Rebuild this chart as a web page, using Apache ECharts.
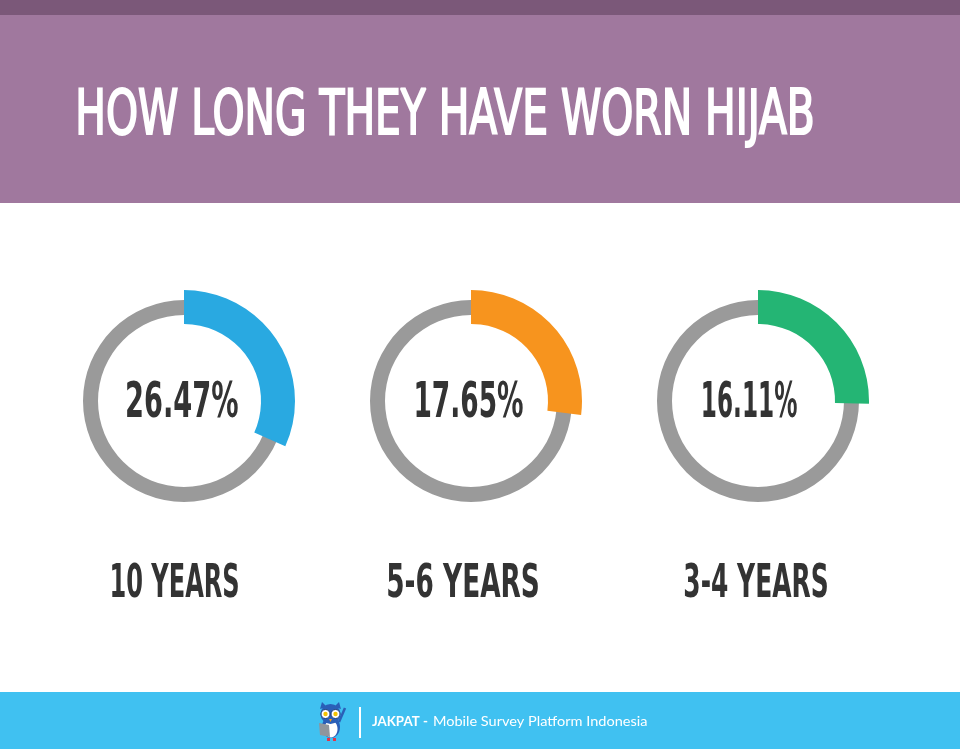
<!DOCTYPE html>
<html>
<head>
<meta charset="utf-8">
<script src="https://cdn.jsdelivr.net/npm/echarts@6/dist/echarts.min.js"></script>
<style>
  html, body { margin: 0; padding: 0; background: #ffffff; }
  #chart { width: 960px; height: 751px; }
</style>
</head>
<body>
<div id="chart"></div>
<script>
// ---- data ----
const titleText = 'HOW LONG THEY HAVE WORN HIJAB';
const categories = ['10 YEARS', '5-6 YEARS', '3-4 YEARS'];
const percentValues = [26.47, 17.65, 16.11];
// share of the ring filled by the coloured arc, as drawn in the picture (% of circle)
const arcShare = [31.7, 27.0, 25.4];
const footerBrand = 'JAKPAT -';
const footerText = 'Mobile Survey Platform Indonesia';

// ---- styles / layout ----
const palette = ['#29a9e1', '#f7941e', '#24b574'];
const ringGray = '#9a9a9a';
const textDark = '#333333';
const centers = [[184, 401], [471, 401], [758, 401]];
const numBoxes = [[127, 238], [416, 523], [703, 797]];
const labelBoxes = [[112, 238], [388, 538], [685, 827]];
const wideFam = "'DejaVu Sans', sans-serif";
const condFam = "'DejaVu Sans Condensed', 'DejaVu Sans', sans-serif";

const measureCtx = document.createElement('canvas').getContext('2d');
function fitText(text, weight, family, size, left, right, capTop, baseline, fill, strokeW) {
  const font = weight + ' ' + size + 'px ' + family;
  measureCtx.font = font;
  measureCtx.textBaseline = 'middle';
  measureCtx.textAlign = 'left';
  const m = measureCtx.measureText(text);
  const h = measureCtx.measureText('H');
  const sw = strokeW || 0;
  const inkW = m.actualBoundingBoxLeft + m.actualBoundingBoxRight + sw;
  const capH = h.actualBoundingBoxAscent + h.actualBoundingBoxDescent + sw;
  const sx = (right - left) / inkW;
  const sy = (baseline - capTop) / capH;
  const style = {
    text: text,
    font: font,
    fontSize: size,
    fontWeight: weight,
    fontFamily: family,
    fill: fill,
    align: 'left',
    verticalAlign: 'middle',
    textAlign: 'left',
    textVerticalAlign: 'middle'
  };
  if (sw) { style.stroke = fill; style.lineWidth = sw; style.lineJoin = 'round'; }
  return {
    type: 'text',
    x: left + (m.actualBoundingBoxLeft + sw / 2) * sx,
    y: baseline - (h.actualBoundingBoxDescent + sw / 2) * sy,
    scaleX: sx,
    scaleY: sy,
    silent: true,
    z: 10,
    style: style
  };
}

const series = [];
categories.forEach(function (cat, i) {
  series.push({
    type: 'pie',
    center: centers[i],
    radius: [86, 101],
    silent: true,
    label: { show: false },
    labelLine: { show: false },
    itemStyle: { borderWidth: 0 },
    emphasis: { disabled: true },
    data: [{ value: 1, name: cat + ' ring', itemStyle: { color: ringGray } }],
    z: 1
  });
  series.push({
    type: 'pie',
    center: centers[i],
    radius: [77, 111],
    startAngle: 90,
    clockwise: true,
    silent: true,
    label: { show: false },
    labelLine: { show: false },
    itemStyle: { borderWidth: 0 },
    emphasis: { disabled: true },
    data: [
      { value: arcShare[i], name: cat, itemStyle: { color: palette[i] } },
      { value: 100 - arcShare[i], name: 'rest', itemStyle: { color: 'rgba(0,0,0,0)' } }
    ],
    z: 2
  });
});

const graphics = [
  { type: 'rect', shape: { x: 0, y: 0, width: 960, height: 15 }, style: { fill: '#7b5879' }, silent: true, z: 0 },
  { type: 'rect', shape: { x: 0, y: 15, width: 960, height: 188 }, style: { fill: '#a0789e' }, silent: true, z: 0 },
  { type: 'rect', shape: { x: 0, y: 692, width: 960, height: 57 }, style: { fill: '#40c1f1' }, silent: true, z: 0 },
  fitText(titleText, 'normal', condFam, 66, 78, 813, 87, 135, '#ffffff', 2.2)
];
categories.forEach(function (cat, i) {
  graphics.push(fitText(percentValues[i].toFixed(2) + '%', 'bold', wideFam, 52,
    numBoxes[i][0], numBoxes[i][1], 380, 417, textDark));
  graphics.push(fitText(cat, 'bold', wideFam, 46,
    labelBoxes[i][0], labelBoxes[i][1], 563, 597, textDark));
});

// footer
graphics.push({ type: 'rect', shape: { x: 359, y: 707, width: 2, height: 31 }, style: { fill: '#ffffff' }, silent: true, z: 5 });
graphics.push(fitText(footerBrand, 'bold', "'Lato', 'Noto Sans', sans-serif", 13, 372, 428, 716, 726, '#ffffff'));
graphics.push(fitText(footerText, 'normal', "'Lato', 'Noto Sans', sans-serif", 13, 434, 647, 716, 726, '#ffffff'));

// owl icon (simplified)
const owl = {
  type: 'group', silent: true, z: 6,
  children: [
    { type: 'polygon', shape: { points: [[320, 709], [322, 702], [327, 707]] }, style: { fill: '#2a5fb8' } },
    { type: 'polygon', shape: { points: [[341, 709], [339, 702], [334, 707]] }, style: { fill: '#2a5fb8' } },
    { type: 'ellipse', shape: { cx: 331, cy: 727, rx: 9, ry: 11 }, style: { fill: '#2a5fb8' } },
    { type: 'ellipse', shape: { cx: 331, cy: 729, rx: 6.5, ry: 8.5 }, style: { fill: '#ffffff' } },
    { type: 'circle', shape: { cx: 330.5, cy: 714, r: 10 }, style: { fill: '#2a5fb8' } },
    { type: 'circle', shape: { cx: 325.5, cy: 714, r: 4.5 }, style: { fill: '#ffffff', stroke: '#1d3f7a', lineWidth: 1 } },
    { type: 'circle', shape: { cx: 335.5, cy: 714, r: 4.5 }, style: { fill: '#ffffff', stroke: '#1d3f7a', lineWidth: 1 } },
    { type: 'circle', shape: { cx: 325.5, cy: 714, r: 2.2 }, style: { fill: '#f5c400' } },
    { type: 'circle', shape: { cx: 335.5, cy: 714, r: 2.2 }, style: { fill: '#f5c400' } },
    { type: 'polygon', shape: { points: [[329, 719], [332, 719], [330.5, 722]] }, style: { fill: '#f29a1f' } },
    { type: 'line', shape: { x1: 339, y1: 722, x2: 345, y2: 708 }, style: { stroke: '#2a5fb8', lineWidth: 2.5 } },
    { type: 'polygon', shape: { points: [[319, 723], [329, 725], [330, 737], [320, 735]] }, style: { fill: '#8f959c' } },
    { type: 'rect', shape: { x: 327, y: 738, width: 3, height: 3 }, style: { fill: '#e2344a' } },
    { type: 'rect', shape: { x: 333, y: 738, width: 3, height: 3 }, style: { fill: '#e2344a' } }
  ]
};
graphics.push(owl);

const chart = echarts.init(document.getElementById('chart'), null, { renderer: 'canvas' });
chart.setOption({
  backgroundColor: '#ffffff',
  animation: false,
  series: series,
  graphic: { elements: graphics }
});
</script>
</body>
</html>
